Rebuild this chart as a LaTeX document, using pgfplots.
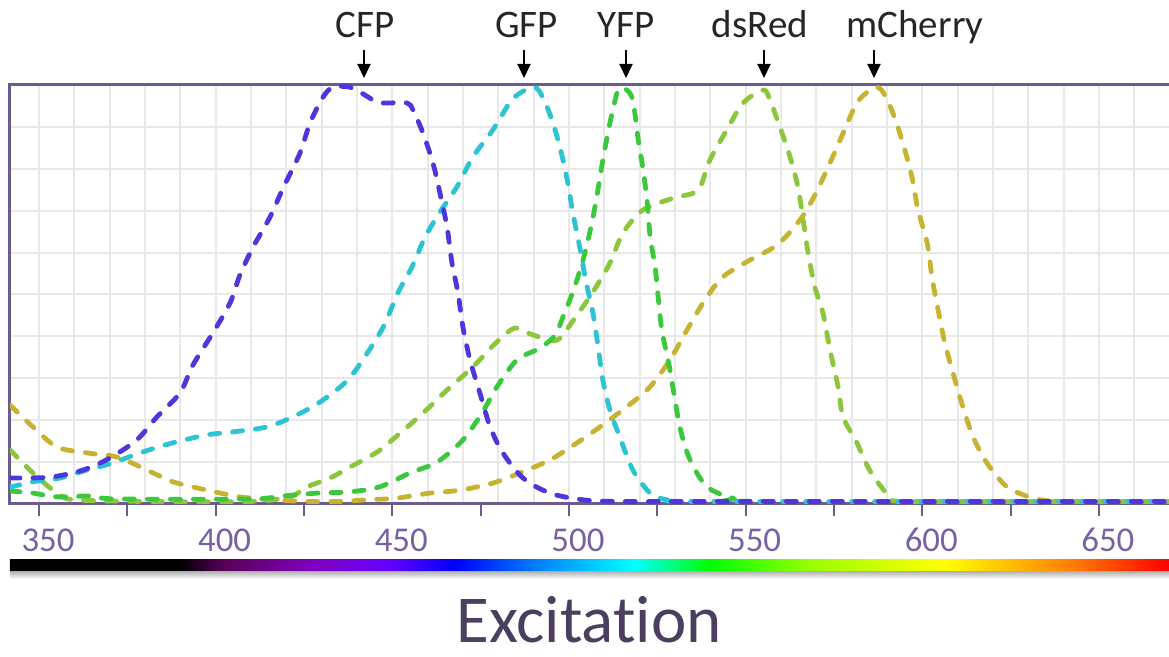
\documentclass[border=0pt]{standalone}
\usepackage{fontspec}
\setmainfont{Carlito}[Ligatures={NoCommon,NoContextual}]
\usepackage{pgfplots}
\pgfplotsset{compat=1.18}
\usetikzlibrary{arrows.meta}

\definecolor{frame}{RGB}{107,91,142}
\definecolor{ticklab}{RGB}{120,96,165}
\definecolor{cfp}{RGB}{75,55,220}
\definecolor{gfp}{RGB}{45,195,210}
\definecolor{yfp}{RGB}{60,200,60}
\definecolor{dsred}{RGB}{140,198,60}
\definecolor{mcherry}{RGB}{200,178,50}
\definecolor{xlab}{RGB}{75,62,95}
\definecolor{spA}{rgb}{0.35,0,0.35}
\definecolor{spB}{rgb}{0.5,0,0.75}
\definecolor{spC}{rgb}{0.4,0,1}
\definecolor{spD}{rgb}{0,0.5,1}
\definecolor{spE}{rgb}{0.6,1,0}
\definecolor{spF}{rgb}{1,0.5,0}

\pgfdeclarehorizontalshading{spectrum}{100bp}{color(0bp)=(black); color(25bp)=(black); color(32.29bp)=(black); color(34.23bp)=(spA); color(38.07bp)=(spB); color(41.31bp)=(spC); color(44.2bp)=(blue); color(47.73bp)=(spD); color(51.92bp)=(cyan); color(55.2bp)=(green); color(59.51bp)=(spE); color(65.34bp)=(yellow); color(70.73bp)=(spF); color(75bp)=(red); color(100bp)=(red)}

\begin{document}
\begin{tikzpicture}
\begin{axis}[
  at={(0,0)}, anchor=south west,
  scale only axis, width=583.3pt, height=209.5pt,
  xmin=341.8, xmax=672, ymin=0, ymax=1,
  axis line style={frame, line width=1.5pt},
  xtick={350,375,...,650},
  xticklabels={350,,400,,450,,500,,550,,600,,650},
  xtick pos=lower,
  minor xtick={340,350,...,670},
  xminorgrids,
  minor grid style={gray!18, line width=1pt},
  ytick={0,0.1,0.2,0.3,0.4,0.5,0.6,0.7,0.8,0.9,1},
  yticklabels={},
  ymajorgrids,
  major grid style={gray!18, line width=1pt},
  ytick style={draw=none},
  xtick style={frame, line width=1pt},
  tick align=outside, major tick length=6pt, minor tick length=0pt,
  xticklabel style={text=ticklab, font=\fontsize{17.4}{20}\selectfont, anchor=base, xshift=4.5pt, yshift=-18pt},
  /pgf/number format/assume math mode=true,
  clip mode=individual,
  every axis plot/.append style={line width=2.4pt, dash pattern=on 5pt off 6.5pt, line cap=round, smooth, tension=0.5},
]
% mCherry
\addplot[mcherry] coordinates {(341.8,0.236)(348.3,0.184)(355.1,0.136)(363.6,0.122)(372.1,0.112)(380.6,0.081)(387.9,0.053)(397.6,0.033)(406.9,0.017)(416.2,0.010)(425.9,0.006)(435.2,0.006)(442.8,0.010)(451.3,0.014)(460.7,0.026)(469.2,0.033)(478.5,0.050)(486.1,0.074)(494.6,0.105)(502.3,0.146)(508.8,0.184)(516.4,0.232)(522.9,0.279)(528.6,0.344)(533.4,0.415)(538.5,0.487)(543.6,0.542)(551.2,0.582)(558.9,0.618)(565.4,0.678)(569.6,0.737)(573.9,0.814)(577.6,0.885)(581.5,0.957)(585.2,0.988)(587.2,0.995)(588.9,0.983)(591.7,0.933)(594.5,0.862)(597.1,0.780)(598.8,0.702)(601.4,0.623)(602.8,0.539)(604.5,0.463)(606.4,0.384)(608.7,0.313)(611.5,0.232)(614.4,0.160)(618.3,0.098)(624.0,0.041)(631.4,0.014)(638.2,0.006)(650,0.006)(670,0.006)};
% dsRed
\addplot[dsred] coordinates {(341.8,0.129)(348.3,0.074)(355.1,0.026)(360.2,0.010)(381.4,0.006)(409.7,0.006)(421.0,0.017)(425.9,0.041)(432.4,0.062)(438.0,0.088)(445.7,0.124)(452.2,0.169)(458.7,0.217)(465.5,0.272)(472.8,0.327)(479.6,0.387)(484.7,0.420)(489.0,0.406)(494.6,0.391)(497.5,0.396)(501.7,0.444)(506.8,0.506)(511.6,0.575)(515.3,0.647)(521.0,0.702)(529.5,0.730)(536.5,0.749)(539.9,0.821)(544.7,0.893)(549.3,0.957)(555.0,0.988)(556.9,0.964)(559.7,0.900)(562.6,0.828)(564.8,0.757)(566.3,0.678)(567.7,0.599)(569.6,0.518)(571.9,0.456)(573.9,0.368)(576.2,0.279)(577.6,0.208)(581.5,0.146)(585.2,0.079)(590.0,0.024)(592.3,0.007)(610,0.006)(670,0.006)};
% YFP
\addplot[yfp] coordinates {(341.8,0.031)(348.3,0.026)(355.1,0.017)(364.4,0.019)(372.1,0.012)(409.7,0.012)(419.1,0.019)(428.7,0.026)(438.0,0.029)(446.5,0.041)(455.0,0.074)(462.7,0.100)(470.0,0.153)(475.4,0.217)(479.6,0.279)(485.3,0.344)(491.8,0.372)(496.1,0.403)(498.3,0.446)(501.1,0.506)(504.0,0.582)(506.5,0.671)(508.2,0.749)(509.6,0.821)(511.6,0.909)(513.6,0.981)(514.7,0.993)(516.4,0.988)(518.1,0.964)(519.5,0.876)(521.0,0.797)(522.1,0.726)(523.0,0.637)(524.4,0.566)(525.2,0.499)(526.3,0.415)(528.6,0.320)(531.4,0.184)(534.3,0.105)(539.1,0.041)(546.4,0.014)(554.1,0.006)(670,0.006)};
% GFP
\addplot[gfp] coordinates {(341.8,0.040)(348.3,0.053)(355.9,0.062)(363.6,0.081)(370.9,0.098)(378.6,0.122)(387.9,0.146)(397.6,0.165)(404.9,0.172)(414.5,0.184)(421.9,0.208)(429.5,0.243)(437.2,0.294)(442.6,0.356)(447.6,0.425)(451.6,0.504)(455.6,0.566)(459.3,0.637)(463.5,0.697)(468.3,0.757)(472.8,0.828)(478.5,0.893)(483.3,0.959)(486.2,0.981)(489.8,0.995)(491.8,0.983)(494.9,0.924)(497.5,0.850)(499.7,0.766)(501.1,0.695)(503.1,0.611)(504.8,0.532)(506.8,0.456)(508.2,0.379)(509.6,0.296)(511.6,0.224)(514.4,0.160)(518.1,0.081)(523.0,0.026)(527.8,0.010)(537.1,0.006)(670,0.006)};
% CFP
\addplot[cfp] coordinates {(341.8,0.062)(353.1,0.064)(362.5,0.081)(370.1,0.110)(377.7,0.153)(383.4,0.208)(389.9,0.265)(393.6,0.332)(399.2,0.408)(404.1,0.480)(406.9,0.547)(410.6,0.613)(415.4,0.685)(419.1,0.754)(423.9,0.838)(426.7,0.909)(430.4,0.971)(433.2,0.995)(438.0,0.995)(440.9,0.983)(445.7,0.959)(448.5,0.957)(454.2,0.957)(455.9,0.940)(458.7,0.885)(461.5,0.814)(463.5,0.742)(465.5,0.661)(466.9,0.575)(468.6,0.504)(470.0,0.422)(472.0,0.344)(474.8,0.265)(477.7,0.184)(481.3,0.122)(487.0,0.062)(494.6,0.026)(504.0,0.010)(514.5,0.006)(540,0.006)(670,0.006)};
\end{axis}
% spectrum bar
\shade[shading=spectrum] (0pt,-34pt) rectangle (579.5pt,-28pt);
\shade[top color=black!28, bottom color=white] (0pt,-37.5pt) rectangle (579.5pt,-34pt);
% title
\node[anchor=base, text=xlab, font=\fontsize{33.5}{38}\selectfont, inner sep=0pt, text depth=0pt] at (289.5pt,-69.5pt) {Excitation};
% protein labels and arrows
\begin{scope}[every node/.style={anchor=base, inner sep=0pt, text=black!85, font=\fontsize{19.5}{22}\selectfont}]
\node at (177.5pt,233pt) {CFP};
\node at (258.25pt,233pt) {GFP};
\node at (308pt,233pt) {YFP};
\node at (375pt,233pt) {dsRed};
\node at (452.5pt,233pt) {mCherry};
\end{scope}
\foreach \ax in {177,257,308,377,432}{
  \draw[black, line width=1pt, -{Triangle[width=6.5pt,length=7pt]}] (\ax pt,227pt) -- (\ax pt,213pt);
}
\pgfresetboundingbox
\path[use as bounding box] (-5pt,-76.5pt) rectangle (579.5pt,252pt);
\end{tikzpicture}
\end{document}
